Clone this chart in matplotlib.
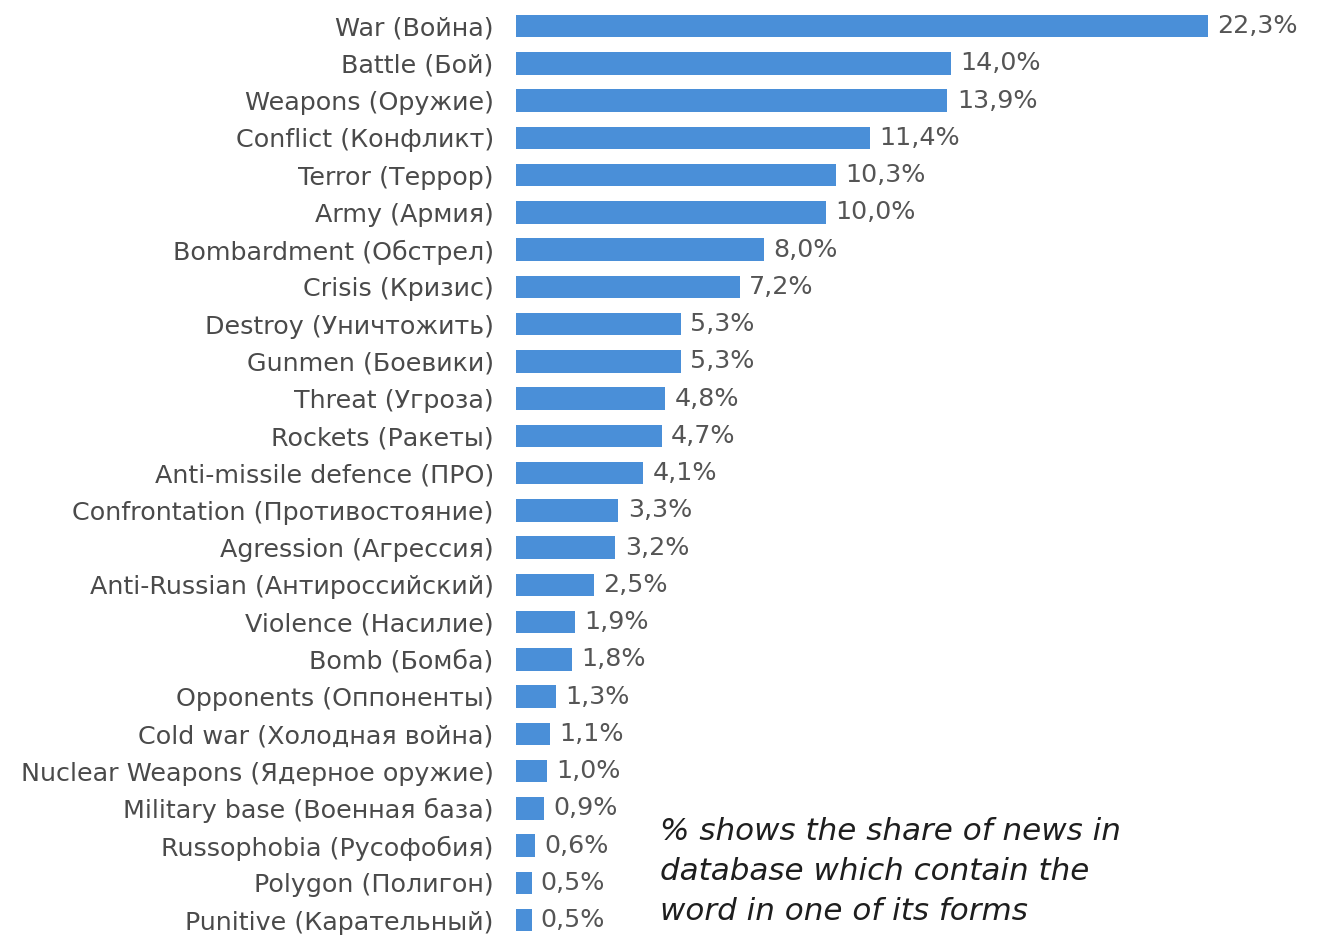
import matplotlib
matplotlib.use("Agg")
import matplotlib.pyplot as plt

categories = [
    "War (Война)", "Battle (Бой)", "Weapons (Оружие)", "Conflict (Конфликт)",
    "Terror (Террор)", "Army (Армия)", "Bombardment (Обстрел)", "Crisis (Кризис)",
    "Destroy (Уничтожить)", "Gunmen (Боевики)", "Threat (Угроза)", "Rockets (Ракеты)",
    "Anti-missile defence (ПРО)", "Confrontation (Противостояние)",
    "Agression (Агрессия)", "Anti-Russian (Антироссийский)", "Violence (Насилие)",
    "Bomb (Бомба)", "Opponents (Оппоненты)", "Cold war (Холодная война)",
    "Nuclear Weapons (Ядерное оружие)", "Military base (Военная база)",
    "Russophobia (Русофобия)", "Polygon (Полигон)", "Punitive (Карательный)",
]
shares = [22.3, 14.0, 13.9, 11.4, 10.3, 10.0, 8.0, 7.2, 5.3, 5.3, 4.8, 4.7, 4.1,
          3.3, 3.2, 2.5, 1.9, 1.8, 1.3, 1.1, 1.0, 0.9, 0.6, 0.5, 0.5]
note_lines = ["% shows the share of news in",
              "database which contain the",
              "word in one of its forms"]

plt.rcParams["font.family"] = ["DejaVu Sans"]

fig = plt.figure(figsize=(13.2, 9.35), dpi=100)
ax = fig.add_axes([516 / 1320, 0.0, 1 - 516 / 1320, 1.0])

pos = list(range(len(categories)))
ax.barh(pos, shares, height=0.6, color="#4a8fd8")

ax.set_xlim(0, 25.9)
ax.set_ylim(24.40, -0.70)
ax.set_yticks(pos)
ax.set_yticklabels(categories, fontsize=18.3, color="#4a4a4a")
ax.tick_params(axis="y", length=0, pad=16)
ax.set_xticks([])
for s in ax.spines.values():
    s.set_visible(False)

for i, v in enumerate(shares):
    ax.text(v + 0.3, i, f"{v:.1f}%".replace(".", ","), va="center", ha="left",
            fontsize=18.3, color="#555555")

for k, line in enumerate(note_lines):
    fig.text(660 / 1320, 1 - (832 + 39.5 * k) / 935, line, ha="left", va="center",
             fontsize=22.3, style="italic", color="#1e1e1e")

fig.savefig("out.png", dpi=100)
